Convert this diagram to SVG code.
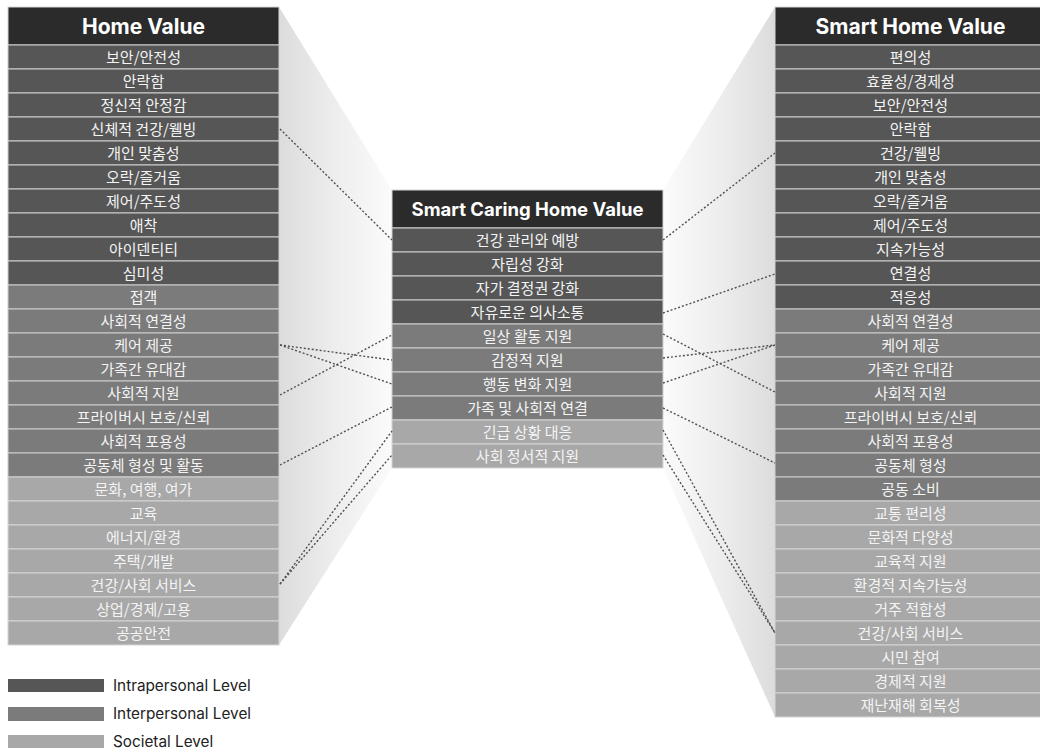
<svg xmlns="http://www.w3.org/2000/svg" width="1040" height="751" viewBox="0 0 1040 751">
<defs>
<linearGradient id="gl" x1="279" y1="0" x2="392" y2="0" gradientUnits="userSpaceOnUse"><stop offset="0" stop-color="#dcdcdc"/><stop offset="0.45" stop-color="#ececec"/><stop offset="1" stop-color="#fbfbfb"/></linearGradient>
<linearGradient id="gr" x1="663" y1="0" x2="775" y2="0" gradientUnits="userSpaceOnUse"><stop offset="0" stop-color="#fbfbfb"/><stop offset="0.55" stop-color="#ececec"/><stop offset="1" stop-color="#dcdcdc"/></linearGradient>
<style>
.hd{fill:#2b2b2b;stroke:#d6d6d6;stroke-width:1}
.d{fill:#565656;stroke:#cfcfcf;stroke-width:1}
.m{fill:#7b7b7b;stroke:#cfcfcf;stroke-width:1}
.l{fill:#a8a8a8;stroke:#d6d6d6;stroke-width:1}
.ht{font-family:Inter,"Liberation Sans",sans-serif;font-weight:700;fill:#ffffff;text-anchor:middle}
.t{font-family:"Noto Sans CJK KR","Noto Sans",sans-serif;font-size:15px;fill:#f4f4f4;text-anchor:middle}
.lg{font-family:Inter,"Liberation Sans",sans-serif;font-size:15.3px;fill:#222222}
.c{fill:none;stroke:#505050;stroke-width:1.4;stroke-dasharray:2 2}
</style>
</defs>
<rect width="1040" height="751" fill="#ffffff"/>
<g id="funnels">
<polygon points="279,7 392,190 392,468 279,645" fill="url(#gl)"/>
<polygon points="663,190 775,7 775,717 663,468" fill="url(#gr)"/>
</g>
<g id="home-value">
<g id="hv-header"><rect class="hd" x="8" y="7" width="271" height="38"/><text class="ht" x="143.5" y="33.5" font-size="21">Home Value</text></g>
<g id="hv-0"><rect class="d" x="8" y="45" width="271" height="24"/><text class="t" x="143.5" y="62.5">보안/안전성</text></g>
<g id="hv-1"><rect class="d" x="8" y="69" width="271" height="24"/><text class="t" x="143.5" y="86.5">안락함</text></g>
<g id="hv-2"><rect class="d" x="8" y="93" width="271" height="24"/><text class="t" x="143.5" y="110.5">정신적 안정감</text></g>
<g id="hv-3"><rect class="d" x="8" y="117" width="271" height="24"/><text class="t" x="143.5" y="134.5">신체적 건강/웰빙</text></g>
<g id="hv-4"><rect class="d" x="8" y="141" width="271" height="24"/><text class="t" x="143.5" y="158.5">개인 맞춤성</text></g>
<g id="hv-5"><rect class="d" x="8" y="165" width="271" height="24"/><text class="t" x="143.5" y="182.5">오락/즐거움</text></g>
<g id="hv-6"><rect class="d" x="8" y="189" width="271" height="24"/><text class="t" x="143.5" y="206.5">제어/주도성</text></g>
<g id="hv-7"><rect class="d" x="8" y="213" width="271" height="24"/><text class="t" x="143.5" y="230.5">애착</text></g>
<g id="hv-8"><rect class="d" x="8" y="237" width="271" height="24"/><text class="t" x="143.5" y="254.5">아이덴티티</text></g>
<g id="hv-9"><rect class="d" x="8" y="261" width="271" height="24"/><text class="t" x="143.5" y="278.5">심미성</text></g>
<g id="hv-10"><rect class="m" x="8" y="285" width="271" height="24"/><text class="t" x="143.5" y="302.5">접객</text></g>
<g id="hv-11"><rect class="m" x="8" y="309" width="271" height="24"/><text class="t" x="143.5" y="326.5">사회적 연결성</text></g>
<g id="hv-12"><rect class="m" x="8" y="333" width="271" height="24"/><text class="t" x="143.5" y="350.5">케어 제공</text></g>
<g id="hv-13"><rect class="m" x="8" y="357" width="271" height="24"/><text class="t" x="143.5" y="374.5">가족간 유대감</text></g>
<g id="hv-14"><rect class="m" x="8" y="381" width="271" height="24"/><text class="t" x="143.5" y="398.5">사회적 지원</text></g>
<g id="hv-15"><rect class="m" x="8" y="405" width="271" height="24"/><text class="t" x="143.5" y="422.5">프라이버시 보호/신뢰</text></g>
<g id="hv-16"><rect class="m" x="8" y="429" width="271" height="24"/><text class="t" x="143.5" y="446.5">사회적 포용성</text></g>
<g id="hv-17"><rect class="m" x="8" y="453" width="271" height="24"/><text class="t" x="143.5" y="470.5">공동체 형성 및 활동</text></g>
<g id="hv-18"><rect class="l" x="8" y="477" width="271" height="24"/><text class="t" x="143.5" y="494.5">문화, 여행, 여가</text></g>
<g id="hv-19"><rect class="l" x="8" y="501" width="271" height="24"/><text class="t" x="143.5" y="518.5">교육</text></g>
<g id="hv-20"><rect class="l" x="8" y="525" width="271" height="24"/><text class="t" x="143.5" y="542.5">에너지/환경</text></g>
<g id="hv-21"><rect class="l" x="8" y="549" width="271" height="24"/><text class="t" x="143.5" y="566.5">주택/개발</text></g>
<g id="hv-22"><rect class="l" x="8" y="573" width="271" height="24"/><text class="t" x="143.5" y="590.5">건강/사회 서비스</text></g>
<g id="hv-23"><rect class="l" x="8" y="597" width="271" height="24"/><text class="t" x="143.5" y="614.5">상업/경제/고용</text></g>
<g id="hv-24"><rect class="l" x="8" y="621" width="271" height="24"/><text class="t" x="143.5" y="638.5">공공안전</text></g>
</g>
<g id="smart-caring-home-value">
<g id="sc-header"><rect class="hd" x="392" y="190" width="271" height="38"/><text class="ht" x="527.5" y="215.5" font-size="18.5">Smart Caring Home Value</text></g>
<g id="sc-0"><rect class="d" x="392" y="228" width="271" height="24"/><text class="t" x="527.5" y="245.5">건강 관리와 예방</text></g>
<g id="sc-1"><rect class="d" x="392" y="252" width="271" height="24"/><text class="t" x="527.5" y="269.5">자립성 강화</text></g>
<g id="sc-2"><rect class="d" x="392" y="276" width="271" height="24"/><text class="t" x="527.5" y="293.5">자가 결정권 강화</text></g>
<g id="sc-3"><rect class="d" x="392" y="300" width="271" height="24"/><text class="t" x="527.5" y="317.5">자유로운 의사소통</text></g>
<g id="sc-4"><rect class="m" x="392" y="324" width="271" height="24"/><text class="t" x="527.5" y="341.5">일상 활동 지원</text></g>
<g id="sc-5"><rect class="m" x="392" y="348" width="271" height="24"/><text class="t" x="527.5" y="365.5">감정적 지원</text></g>
<g id="sc-6"><rect class="m" x="392" y="372" width="271" height="24"/><text class="t" x="527.5" y="389.5">행동 변화 지원</text></g>
<g id="sc-7"><rect class="m" x="392" y="396" width="271" height="24"/><text class="t" x="527.5" y="413.5">가족 및 사회적 연결</text></g>
<g id="sc-8"><rect class="l" x="392" y="420" width="271" height="24"/><text class="t" x="527.5" y="437.5">긴급 상황 대응</text></g>
<g id="sc-9"><rect class="l" x="392" y="444" width="271" height="24"/><text class="t" x="527.5" y="461.5">사회 정서적 지원</text></g>
</g>
<g id="smart-home-value">
<g id="sh-header"><rect class="hd" x="775" y="7" width="271" height="38"/><text class="ht" x="910.5" y="33.5" font-size="21">Smart Home Value</text></g>
<g id="sh-0"><rect class="d" x="775" y="45" width="271" height="24"/><text class="t" x="910.5" y="62.5">편의성</text></g>
<g id="sh-1"><rect class="d" x="775" y="69" width="271" height="24"/><text class="t" x="910.5" y="86.5">효율성/경제성</text></g>
<g id="sh-2"><rect class="d" x="775" y="93" width="271" height="24"/><text class="t" x="910.5" y="110.5">보안/안전성</text></g>
<g id="sh-3"><rect class="d" x="775" y="117" width="271" height="24"/><text class="t" x="910.5" y="134.5">안락함</text></g>
<g id="sh-4"><rect class="d" x="775" y="141" width="271" height="24"/><text class="t" x="910.5" y="158.5">건강/웰빙</text></g>
<g id="sh-5"><rect class="d" x="775" y="165" width="271" height="24"/><text class="t" x="910.5" y="182.5">개인 맞춤성</text></g>
<g id="sh-6"><rect class="d" x="775" y="189" width="271" height="24"/><text class="t" x="910.5" y="206.5">오락/즐거움</text></g>
<g id="sh-7"><rect class="d" x="775" y="213" width="271" height="24"/><text class="t" x="910.5" y="230.5">제어/주도성</text></g>
<g id="sh-8"><rect class="d" x="775" y="237" width="271" height="24"/><text class="t" x="910.5" y="254.5">지속가능성</text></g>
<g id="sh-9"><rect class="d" x="775" y="261" width="271" height="24"/><text class="t" x="910.5" y="278.5">연결성</text></g>
<g id="sh-10"><rect class="d" x="775" y="285" width="271" height="24"/><text class="t" x="910.5" y="302.5">적응성</text></g>
<g id="sh-11"><rect class="m" x="775" y="309" width="271" height="24"/><text class="t" x="910.5" y="326.5">사회적 연결성</text></g>
<g id="sh-12"><rect class="m" x="775" y="333" width="271" height="24"/><text class="t" x="910.5" y="350.5">케어 제공</text></g>
<g id="sh-13"><rect class="m" x="775" y="357" width="271" height="24"/><text class="t" x="910.5" y="374.5">가족간 유대감</text></g>
<g id="sh-14"><rect class="m" x="775" y="381" width="271" height="24"/><text class="t" x="910.5" y="398.5">사회적 지원</text></g>
<g id="sh-15"><rect class="m" x="775" y="405" width="271" height="24"/><text class="t" x="910.5" y="422.5">프라이버시 보호/신뢰</text></g>
<g id="sh-16"><rect class="m" x="775" y="429" width="271" height="24"/><text class="t" x="910.5" y="446.5">사회적 포용성</text></g>
<g id="sh-17"><rect class="m" x="775" y="453" width="271" height="24"/><text class="t" x="910.5" y="470.5">공동체 형성</text></g>
<g id="sh-18"><rect class="m" x="775" y="477" width="271" height="24"/><text class="t" x="910.5" y="494.5">공동 소비</text></g>
<g id="sh-19"><rect class="l" x="775" y="501" width="271" height="24"/><text class="t" x="910.5" y="518.5">교통 편리성</text></g>
<g id="sh-20"><rect class="l" x="775" y="525" width="271" height="24"/><text class="t" x="910.5" y="542.5">문화적 다양성</text></g>
<g id="sh-21"><rect class="l" x="775" y="549" width="271" height="24"/><text class="t" x="910.5" y="566.5">교육적 지원</text></g>
<g id="sh-22"><rect class="l" x="775" y="573" width="271" height="24"/><text class="t" x="910.5" y="590.5">환경적 지속가능성</text></g>
<g id="sh-23"><rect class="l" x="775" y="597" width="271" height="24"/><text class="t" x="910.5" y="614.5">거주 적합성</text></g>
<g id="sh-24"><rect class="l" x="775" y="621" width="271" height="24"/><text class="t" x="910.5" y="638.5">건강/사회 서비스</text></g>
<g id="sh-25"><rect class="l" x="775" y="645" width="271" height="24"/><text class="t" x="910.5" y="662.5">시민 참여</text></g>
<g id="sh-26"><rect class="l" x="775" y="669" width="271" height="24"/><text class="t" x="910.5" y="686.5">경제적 지원</text></g>
<g id="sh-27"><rect class="l" x="775" y="693" width="271" height="24"/><text class="t" x="910.5" y="710.5">재난재해 회복성</text></g>
</g>
<g id="connectors">
<line class="c" x1="280" y1="129" x2="392" y2="240"/>
<line class="c" x1="280" y1="345" x2="392" y2="360"/>
<line class="c" x1="280" y1="345" x2="392" y2="384"/>
<line class="c" x1="280" y1="395" x2="392" y2="335"/>
<line class="c" x1="280" y1="465" x2="392" y2="407"/>
<line class="c" x1="280" y1="584" x2="392" y2="431"/>
<line class="c" x1="280" y1="584" x2="392" y2="455"/>
<line class="c" x1="663" y1="240" x2="775" y2="153"/>
<line class="c" x1="663" y1="313" x2="775" y2="274"/>
<line class="c" x1="663" y1="334" x2="775" y2="392"/>
<line class="c" x1="663" y1="358" x2="775" y2="345"/>
<line class="c" x1="663" y1="383" x2="775" y2="345"/>
<line class="c" x1="663" y1="408" x2="775" y2="463"/>
<line class="c" x1="663" y1="430" x2="775" y2="633"/>
<line class="c" x1="663" y1="455" x2="775" y2="633"/>
</g>
<g id="legend">
<rect x="8" y="679" width="96" height="13" fill="#565656"/>
<text class="lg" x="113" y="691">Intrapersonal Level</text>
<rect x="8" y="707" width="96" height="14" fill="#7b7b7b"/>
<text class="lg" x="113" y="719">Interpersonal Level</text>
<rect x="8" y="735" width="96" height="13" fill="#a8a8a8"/>
<text class="lg" x="113" y="747">Societal Level</text>
</g>
</svg>
